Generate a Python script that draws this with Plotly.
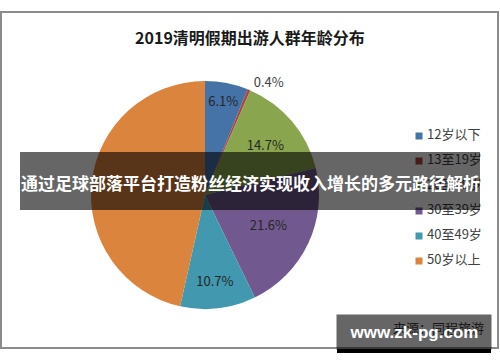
import plotly.graph_objects as go

title = "2019清明假期出游人群年龄分布"
categories = ["12岁以下", "13至19岁", "20至29岁", "30至39岁", "40至49岁", "50岁以上"]
values = [6.1, 0.4, 14.7, 21.6, 10.7, 46.5]
colors = ["#4572A7", "#AA4643", "#89A54E", "#71588F", "#4198AF", "#DB843D"]
banner_text = "通过足球部落平台打造粉丝经济实现收入增长的多元路径解析"
source_text = "来源：同程旅游"
watermark = "www.zk-pg.com"

FONT = "Noto Sans CJK SC, Microsoft YaHei, sans-serif"
W, H = 500, 362

fig = go.Figure()

labels_text = [f"{v:.1f}%" for v in values]
labels_text[-1] = ""  # hidden behind the banner in the reference

fig.add_trace(go.Pie(
    labels=categories,
    values=values,
    sort=False,
    direction="clockwise",
    rotation=0,
    marker=dict(colors=colors, line=dict(width=0)),
    text=labels_text,
    textinfo="text",
    textposition=["inside", "outside", "inside", "inside", "inside", "inside"],
    insidetextfont=dict(family=FONT, size=13, color="#262626"),
    outsidetextfont=dict(family=FONT, size=13, color="#404040"),
    insidetextorientation="horizontal",
    domain=dict(x=[(205 - 114) / W, (205 + 114) / W],
                y=[1 - (195 + 114) / H, 1 - (195 - 114) / H]),
    showlegend=False,
    hoverinfo="skip",
))

# legend drawn as marker + text traces (so the banner can cover it)
leg_y = [136 + 25 * i for i in range(len(categories))]
fig.add_trace(go.Scatter(
    x=[419] * len(categories), y=leg_y, mode="markers",
    marker=dict(symbol="square", size=7, color=colors),
    showlegend=False, hoverinfo="skip", cliponaxis=False,
))
fig.add_trace(go.Scatter(
    x=[427] * len(categories), y=leg_y, mode="text",
    text=categories, textposition="middle right",
    textfont=dict(family=FONT, size=13, color="#404040"),
    showlegend=False, hoverinfo="skip", cliponaxis=False,
))

fig.update_layout(
    width=W, height=H,
    margin=dict(l=0, r=0, t=0, b=0),
    paper_bgcolor="white",
    plot_bgcolor="rgba(0,0,0,0)",
    font=dict(family=FONT, color="#404040"),
    xaxis=dict(visible=False, range=[0, W], domain=[0, 1], fixedrange=True),
    yaxis=dict(visible=False, range=[H, 0], domain=[0, 1], fixedrange=True),
    title=dict(text=f"<b>{title}</b>", x=0.5, xanchor="center",
               y=1 - 38 / H, yanchor="middle", yref="paper",
               font=dict(family=FONT, size=16, color="#1a1a1a")),
    showlegend=False,
)

# chart frame
fig.add_shape(type="rect", xref="paper", yref="paper",
              x0=1 / W, x1=498 / W, y0=1 - 348 / H, y1=1 - 12 / H,
              line=dict(color="#8c8c8c", width=2), fillcolor="rgba(0,0,0,0)",
              layer="below")

# source text
fig.add_annotation(text=source_text, xref="paper", yref="paper",
                   x=486 / W, xanchor="right", y=1 - 327 / H, yanchor="middle",
                   showarrow=False, font=dict(family=FONT, size=13, color="#404040"))

# overlay banner
fig.add_shape(type="rect", xref="paper", yref="paper",
              x0=20 / W, x1=480 / W, y0=1 - 210 / H, y1=1 - 152 / H,
              line=dict(width=0), fillcolor="rgba(0,0,0,0.6)", layer="above")
fig.add_annotation(text=f"<b>{banner_text}</b>", xref="paper", yref="paper",
                   x=250 / W, xanchor="center", y=1 - 182 / H, yanchor="middle",
                   showarrow=False,
                   font=dict(family=FONT, size=17, color="white"))

# watermark box
fig.add_shape(type="rect", xref="paper", yref="paper",
              x0=337 / W, x1=491 / W, y0=1 - 353 / H, y1=1 - 349 / H,
              line=dict(width=0), fillcolor="black", layer="above")
fig.add_annotation(text=f"<b>{watermark}</b>", xref="paper", yref="paper",
                   x=414 / W, xanchor="center", y=1 - 332 / H, yanchor="middle",
                   showarrow=False, width=154, height=34, borderpad=0,
                   bgcolor="rgba(0,0,0,0.6)",
                   font=dict(family="Liberation Sans, Arial, sans-serif", size=17, color="white"))

fig.write_html("out.html",
               config={"displayModeBar": False},
               post_script="document.body.style.margin='0';document.body.style.overflow='hidden';")
